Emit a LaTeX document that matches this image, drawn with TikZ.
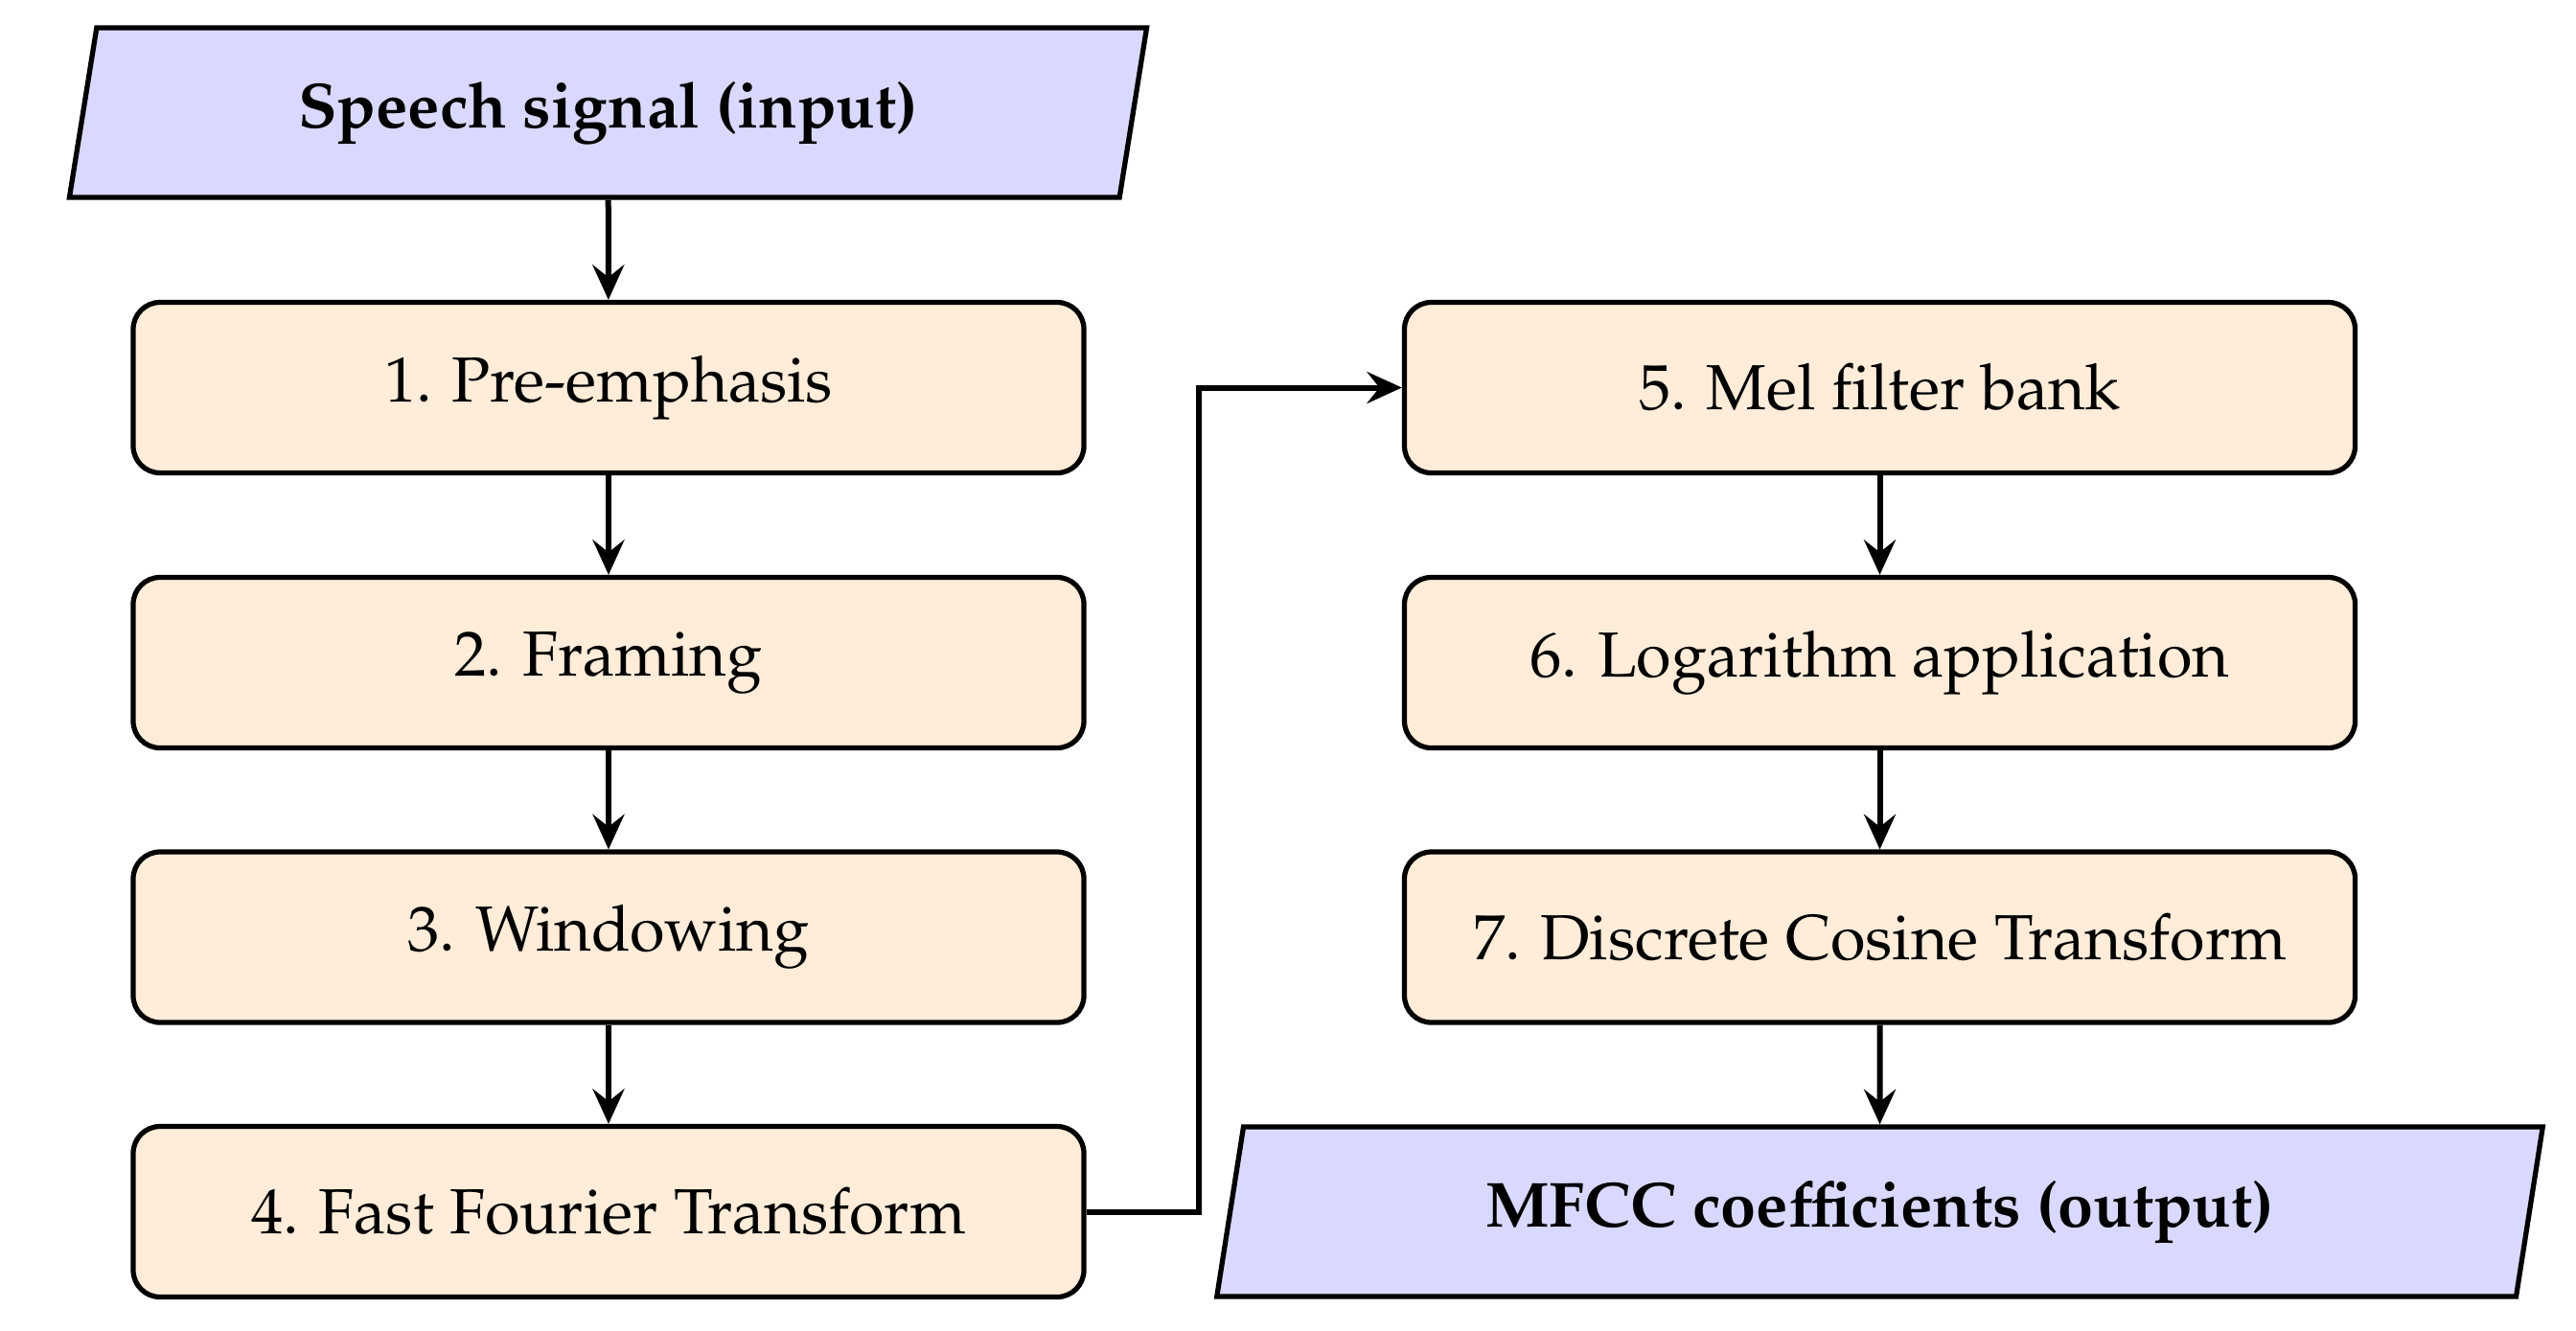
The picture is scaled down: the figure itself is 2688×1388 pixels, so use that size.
\documentclass[tikz,border=0pt]{standalone}
\usepackage[T1]{fontenc}
\usepackage{mathpazo}
\usetikzlibrary{shapes.geometric,arrows.meta}
\definecolor{procfill}{rgb}{1,0.925,0.85}
\definecolor{iofill}{rgb}{0.85,0.85,1}
\tikzset{
  procbox/.style={draw, line width=1.05pt, rounded corners=5.6pt, fill=procfill,
    minimum width=198.4pt, minimum height=35.6pt, inner sep=0pt,
    font=\fontsize{13.3}{16}\selectfont},
  iobox/.style={draw, line width=1.05pt, trapezium, trapezium left angle=75.2,
    trapezium right angle=104.8, trapezium stretches=true, fill=iofill,
    minimum height=35.4pt, inner sep=0pt,
    font=\fontsize{13.3}{16}\selectfont\bfseries},
  flow/.style={line width=1.2pt, -{Stealth[length=7.3pt,width=6.6pt,inset=2.6pt]}}
}
\begin{document}
\begin{tikzpicture}[x=0.2pt,y=-0.2pt]
\useasboundingbox (0,0) rectangle (2688,1388);
\node[iobox, minimum width=225pt] (in) at (634.5,117.5) {Speech signal (input)};
\node[procbox] (b1) at (635,404.5) {1. Pre-emphasis};
\node[procbox] (b2) at (635,691.5) {2. Framing};
\node[procbox] (b3) at (635,978) {3. Windowing};
\node[procbox] (b4) at (635,1264.5) {4. Fast Fourier Transform};
\node[procbox] (b5) at (1961.5,404.5) {5. Mel filter bank};
\node[procbox] (b6) at (1961.5,691.5) {6. Logarithm application};
\node[procbox] (b7) at (1961.5,978) {7. Discrete Cosine Transform};
\node[iobox, minimum width=277pt] (out) at (1961.5,1264.5) {MFCC coefficients (output)};
\coordinate (mid) at (1251,800);
\draw[flow] (in) -- (b1);
\draw[flow] (b1) -- (b2);
\draw[flow] (b2) -- (b3);
\draw[flow] (b3) -- (b4);
\draw[flow] (b4.east) -- (b4.east -| mid) -- (b5.west -| mid) -- (b5.west);
\draw[flow] (b5) -- (b6);
\draw[flow] (b6) -- (b7);
\draw[flow] (b7) -- (out);
\end{tikzpicture}
\end{document}
